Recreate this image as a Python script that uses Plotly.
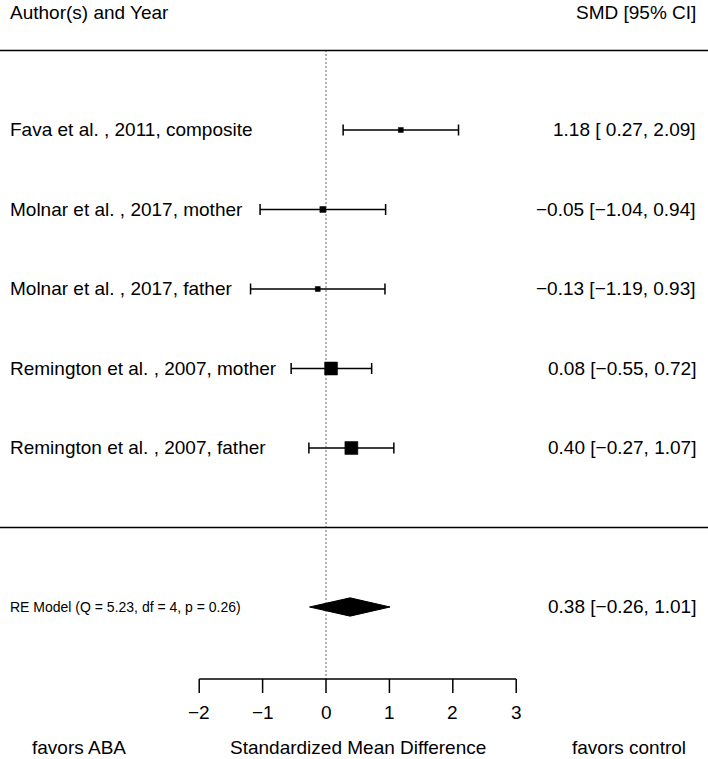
import plotly.graph_objects as go

# study data (SMD with 95% CI)
studies = [
    "Fava et al. , 2011, composite",
    "Molnar et al. , 2017, mother",
    "Molnar et al. , 2017, father",
    "Remington et al. , 2007, mother",
    "Remington et al. , 2007, father",
]
smd = [1.18, -0.05, -0.13, 0.08, 0.40]
ci_low = [0.27, -1.04, -1.19, -0.55, -0.27]
ci_high = [2.09, 0.94, 0.93, 0.72, 1.07]
box_size = [5, 6, 5, 13, 13]  # marker size ~ study weight

# random-effects summary
re_est = 0.38
re_low = -0.26
re_high = 1.01
re_label = "RE Model (Q = 5.23, df = 4, p = 0.26)"

x_ticks = [-2, -1, 0, 1, 2, 3]

rows = list(range(len(studies), 0, -1))  # 5..1 top to bottom
re_row = -1
axis_y = -1.906
FONT = "Liberation Sans, Arial, Helvetica, sans-serif"
FS = 19
LEFT_X = 0.012
RIGHT_X = 0.986


def fmt(v, nd=2):
    s = f"{abs(v):.{nd}f}"
    return ("\u2212" + s) if v < 0 else s


def ci_text(est, lo, hi):
    lo_s = fmt(lo) if lo < 0 else " " + fmt(lo)
    return f"{fmt(est)} [{lo_s}, {fmt(hi)}]"


def txt(x, y, s, anchor="center", size=FS, xref="x"):
    fig.add_annotation(x=x, y=y, xref=xref, text=s, xanchor=anchor, showarrow=False,
                       font=dict(size=size, color="black", family=FONT))


fig = go.Figure()

# reference line at 0 (dotted)
fig.add_trace(go.Scatter(
    x=[0, 0], y=[6, axis_y], mode="lines",
    line=dict(color="black", width=1.2, dash="1px,3px"), hoverinfo="skip"
))

# study estimates with CIs
fig.add_trace(go.Scatter(
    x=smd, y=rows, mode="markers",
    marker=dict(symbol="square", size=box_size, color="black", opacity=1,
                line=dict(width=0.5, color="black")),
    error_x=dict(
        type="data", symmetric=False,
        array=[h - e for h, e in zip(ci_high, smd)],
        arrayminus=[e - l for e, l in zip(smd, ci_low)],
        color="black", thickness=1.5, width=5.5
    ),
    hoverinfo="skip"
))

# summary diamond
dh = 0.115
fig.add_trace(go.Scatter(
    x=[re_low, re_est, re_high, re_est, re_low],
    y=[re_row, re_row + dh, re_row, re_row - dh, re_row],
    mode="lines", fill="toself", fillcolor="black",
    line=dict(color="black", width=1), hoverinfo="skip"
))

# x axis line and ticks
fig.add_trace(go.Scatter(
    x=[x_ticks[0], x_ticks[-1]], y=[axis_y, axis_y], mode="lines",
    line=dict(color="black", width=1.5), hoverinfo="skip"
))
for t in x_ticks:
    fig.add_shape(type="line", x0=t, x1=t, y0=axis_y, y1=-2.082,
                  line=dict(color="black", width=1.5))
    txt(t, -2.333, fmt(t, 0))

# horizontal separators
for yy in [6, 0]:
    fig.add_shape(type="line", xref="paper", x0=0, x1=1, y0=yy, y1=yy,
                  line=dict(color="black", width=1.5))

# left labels
for name, r in zip(studies, rows):
    txt(LEFT_X, r, name, "left", xref="paper")
txt(LEFT_X, re_row, re_label, "left", size=14, xref="paper")

# right labels
for e, lo, hi, r in zip(smd, ci_low, ci_high, rows):
    txt(RIGHT_X, r, ci_text(e, lo, hi), "right", xref="paper")
txt(RIGHT_X, re_row, ci_text(re_est, re_low, re_high), "right", xref="paper")

# headers
txt(LEFT_X, 6.484, "Author(s) and Year", "left", xref="paper")
txt(RIGHT_X, 6.484, "SMD [95% CI]", "right", xref="paper")

# bottom labels
txt(0.042, -2.761, "favors ABA", "left", xref="paper")
txt(0.5, -2.761, "Standardized Mean Difference")
txt(0.972, -2.761, "favors control", "right", xref="paper")

fig.update_layout(
    width=708, height=759,
    margin=dict(l=0, r=0, t=0, b=0),
    paper_bgcolor="white", plot_bgcolor="white",
    showlegend=False,
    xaxis=dict(range=[-5.142, 6.025], visible=False, fixedrange=True),
    yaxis=dict(range=[-2.912, 6.635], visible=False, fixedrange=True),
)

fig.write_html("out.html", config={"displayModeBar": False},
               post_script="document.body.style.margin='0';")
